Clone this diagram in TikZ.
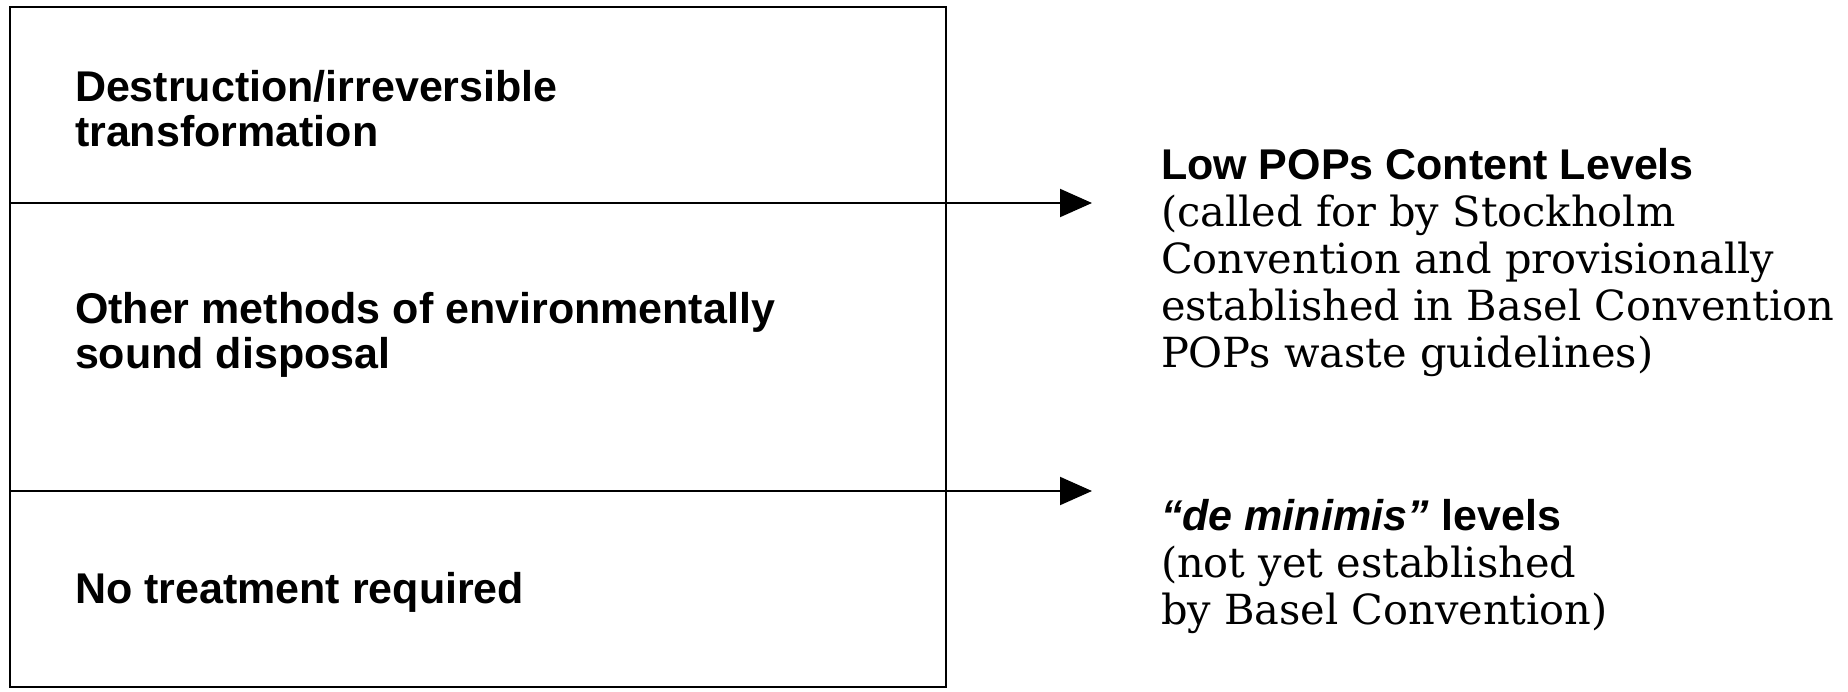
\documentclass[tikz,border=0pt]{standalone}
\usepackage{fontspec}
\setmainfont{DejaVu Serif}
\setsansfont{Liberation Sans}
\usetikzlibrary{arrows.meta}

\newcommand{\headfont}{\fontsize{43}{45}\selectfont\sffamily\bfseries}

\begin{document}
\begin{tikzpicture}[x=1pt,y=-1pt,line width=2pt,
    lbl/.style={anchor=base west,inner sep=0pt,align=left,font=\headfont},
    note/.style={anchor=base west,inner sep=0pt,align=left,font=\fontsize{41.5}{47}\selectfont},
    flow/.style={-{Triangle[length=32pt,width=28pt]}}]
  \useasboundingbox (0,0) rectangle (1848,691);
  % treatment box
  \draw (10,7) rectangle (946,687);
  \coordinate (top-l) at (10,203);
  \coordinate (top-r) at (1092,203);
  \coordinate (bot-l) at (10,491);
  \coordinate (bot-r) at (1092,491);
  \draw[flow] (top-l) -- (top-r);
  \draw[flow] (bot-l) -- (bot-r);
  % base anchor sits on the last line
  \node (destr) at (74,146) [lbl] {Destruction/irreversible\\transformation};
  \node (other) at (74,368) [lbl] {Other methods of environmentally\\sound disposal};
  \node (none) at (74,603) [lbl] {No treatment required};
  % levels
  \node (low) at (1160,367) [note] {{\headfont Low POPs Content Levels}\\(called for by Stockholm\\Convention and provisionally\\established in Basel Convention\\POPs waste guidelines)};
  \node (demin) at (1160,624) [note] {{\headfont\itshape “de minimis”} {\headfont levels}\\(not yet established\\by Basel Convention)};
\end{tikzpicture}
\end{document}
